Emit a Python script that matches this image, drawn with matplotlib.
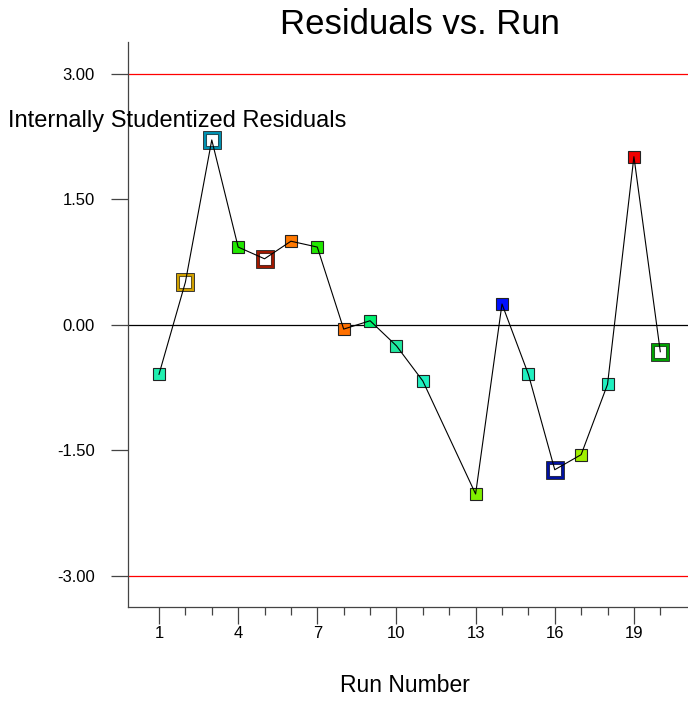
import matplotlib
matplotlib.use("Agg")
import matplotlib.pyplot as plt
from matplotlib.ticker import FixedLocator, FixedFormatter

plt.rcParams['font.family'] = ['Liberation Sans', 'DejaVu Sans']

# run number and residual values
runs = [1, 2, 3, 4, 5, 6, 7, 8, 9, 10, 11, 13, 14, 15, 16, 17, 18, 19, 20]
resid = [-0.59, 0.51, 2.21, 0.93, 0.79, 1.00, 0.93, -0.05, 0.05, -0.25, -0.67,
         -2.02, 0.25, -0.59, -1.73, -1.55, -0.71, 2.01, -0.32]
colors = ['#20f0b0', '#d0a000', '#0090b0', '#20e800', '#a01800', '#ff7800',
          '#20e800', '#ff7000', '#00f070', '#20e8a0', '#20f0c0', '#80f000',
          '#0010ff', '#20f0c0', '#0010a0', '#a0f000', '#20f0c0', '#f00000',
          '#00a000']
hollow = [False, True, True, False, True, False, False, False, False, False,
          False, False, False, False, True, False, False, False, True]

xticks = [1, 4, 7, 10, 13, 16, 19]
xminor = [2, 3, 5, 6, 8, 9, 11, 12, 14, 15, 17, 18, 20]
yticks = [-3.0, -1.5, 0.0, 1.5, 3.0]
ylabels = ['-3.00', '-1.50', '0.00', '1.50', '3.00']

fig = plt.figure(figsize=(6.88, 7.26), dpi=100)
ax = fig.add_axes([128/688, 1 - 607/726, 1 - 128/688, (607 - 42)/726])

ax.axhline(3.0, color='red', lw=0.9, zorder=1)
ax.axhline(-3.0, color='red', lw=0.9, zorder=1)
ax.axhline(0.0, color='black', lw=0.9, zorder=1)

for x, y, c, h in zip(runs, resid, colors, hollow):
    if h:
        ax.plot(x, y, 's', ms=12.5, mfc='white', mec='#333333', mew=0.7, zorder=2)
        ax.plot(x, y, 's', ms=10.5, mfc='white', mec=c, mew=2.2, zorder=2)
        ax.plot(x, y, 's', ms=8, mfc='none', mec='#333333', mew=0.5, zorder=2)
    else:
        ax.plot(x, y, 's', ms=8.5, mfc=c, mec='#222222', mew=0.8, zorder=2)

ax.plot(runs, resid, color='black', lw=0.8, zorder=3)

ax.set_xlim(-0.175, 21.05)
ax.set_ylim(-3.37, 3.38)

ax.xaxis.set_major_locator(FixedLocator(xticks))
ax.xaxis.set_minor_locator(FixedLocator(xminor))
ax.yaxis.set_major_locator(FixedLocator(yticks))
ax.yaxis.set_major_formatter(FixedFormatter(ylabels))

ax.tick_params(axis='x', which='major', length=12, width=0.9, color='#444444',
               labelsize=12, pad=2)
ax.tick_params(axis='x', which='minor', length=6, width=0.9, color='#444444')
ax.tick_params(axis='y', which='major', length=12, width=0.9, color='#444444',
               labelsize=12, pad=12)

for s in ['top', 'right']:
    ax.spines[s].set_visible(False)
for s in ['left', 'bottom']:
    ax.spines[s].set_color('#444444')
    ax.spines[s].set_linewidth(0.9)

fig.text(420/688, 1 - 25/726, 'Residuals vs. Run', ha='center', va='center',
         fontsize=25)
fig.text(8/688, 1 - 121/726, 'Internally Studentized Residuals', ha='left',
         va='center', fontsize=17)
fig.text(405/688, 1 - 686/726, 'Run Number', ha='center', va='center',
         fontsize=16.5)

fig.savefig('out.png', dpi=100)
